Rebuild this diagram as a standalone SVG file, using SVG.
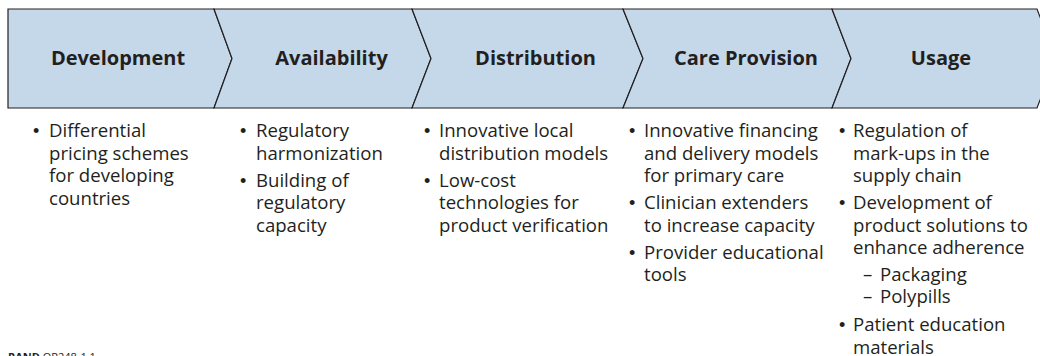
<svg xmlns="http://www.w3.org/2000/svg" width="1040" height="356" viewBox="0 0 1040 356">
<style>
.seg{fill:#c5d8ea;stroke:#231f20;stroke-width:1.2;stroke-linejoin:miter}
.hd{font-family:"Open Sans","Liberation Sans",sans-serif;font-weight:bold;font-size:20px;fill:#231f20;text-anchor:middle}
.bt{font-family:"Open Sans","Liberation Sans",sans-serif;font-size:18.6px;fill:#231f20}
.bl{font-family:"Liberation Sans",sans-serif;font-size:18px;fill:#231f20}
.src{font-family:"Open Sans","Liberation Sans",sans-serif;font-size:11px;fill:#231f20}
</style>
<rect width="1040" height="356" fill="#ffffff"/>
<g id="development">
<path class="seg" d="M8,9 L214,9 L232,58.5 L214,108 L8,108 Z"/>
<text class="hd" x="118" y="65">Development</text>
<text class="bl" x="33" y="137">•</text>
<g class="bt">
<text x="49" y="137">Differential</text>
<text x="49" y="159.5">pricing schemes</text>
<text x="49" y="182">for developing</text>
<text x="49" y="204.5">countries</text>
</g>
</g>
<g id="availability">
<path class="seg" d="M214,9 L412,9 L431,58.5 L412,108 L214,108 L232,58.5 Z"/>
<text class="hd" x="331.5" y="65">Availability</text>
<text class="bl" x="240" y="137">•</text>
<text class="bl" x="240" y="186.5">•</text>
<g class="bt">
<text x="256" y="137">Regulatory</text>
<text x="256" y="159.5">harmonization</text>
<text x="256" y="186.5">Building of</text>
<text x="256" y="209">regulatory</text>
<text x="256" y="231.5">capacity</text>
</g>
</g>
<g id="distribution">
<path class="seg" d="M412,9 L623,9 L643,58.5 L623,108 L412,108 L431,58.5 Z"/>
<text class="hd" x="535.5" y="65">Distribution</text>
<text class="bl" x="424" y="137">•</text>
<text class="bl" x="424" y="186.5">•</text>
<g class="bt">
<text x="439" y="137">Innovative local</text>
<text x="439" y="159.5">distribution models</text>
<text x="439" y="186.5">Low-cost</text>
<text x="439" y="209">technologies for</text>
<text x="439" y="231.5">product verification</text>
</g>
</g>
<g id="care-provision">
<path class="seg" d="M623,9 L832,9 L851,58.5 L832,108 L623,108 L643,58.5 Z"/>
<text class="hd" x="746" y="65">Care Provision</text>
<text class="bl" x="629" y="137">•</text>
<text class="bl" x="629" y="209">•</text>
<text class="bl" x="629" y="258.5">•</text>
<g class="bt">
<text x="644" y="137">Innovative financing</text>
<text x="644" y="159.5">and delivery models</text>
<text x="644" y="182">for primary care</text>
<text x="644" y="209">Clinician extenders</text>
<text x="644" y="231.5">to increase capacity</text>
<text x="644" y="258.5">Provider educational</text>
<text x="644" y="281">tools</text>
</g>
</g>
<g id="usage">
<path class="seg" d="M832,9 L1037,9 L1056,58.5 L1037,108 L832,108 L851,58.5 Z"/>
<text class="hd" x="941" y="65">Usage</text>
<text class="bl" x="839" y="137">•</text>
<text class="bl" x="839" y="209">•</text>
<text class="bl" x="839" y="331">•</text>
<g class="bt">
<text x="853" y="137">Regulation of</text>
<text x="853" y="159.5">mark-ups in the</text>
<text x="853" y="182">supply chain</text>
<text x="853" y="209">Development of</text>
<text x="853" y="231.5">product solutions to</text>
<text x="853" y="254">enhance adherence</text>
<text x="863" y="280.5">–</text>
<text x="880" y="280.5">Packaging</text>
<text x="863" y="303">–</text>
<text x="880" y="303">Polypills</text>
<text x="853" y="331">Patient education</text>
<text x="853" y="353.5">materials</text>
</g>
</g>
<g id="connectors"></g>
<text class="src" x="8" y="361"><tspan font-weight="bold">RAND</tspan> OP248-1.1</text>
</svg>
